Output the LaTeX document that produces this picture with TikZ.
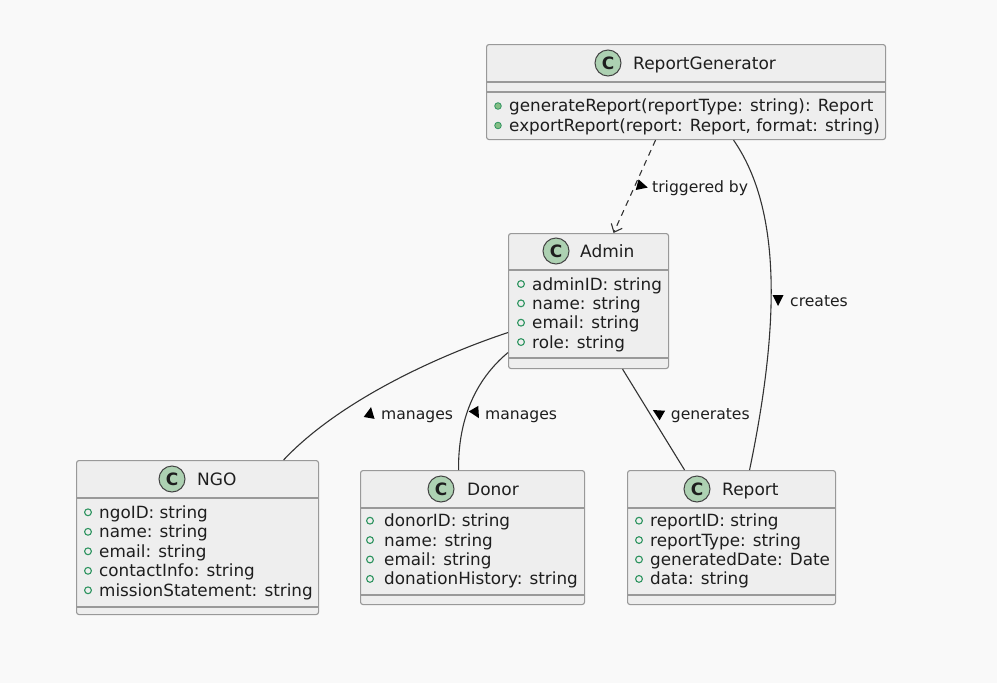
\documentclass[tikz,border=0pt]{standalone}
\usepackage{fontspec}
\setmainfont{DejaVu Sans}
\usetikzlibrary{arrows.meta}
\definecolor{bgcol}{HTML}{F9F9F9}
\definecolor{boxfill}{HTML}{EEEEEE}
\definecolor{boxline}{HTML}{999999}
\definecolor{iconfill}{HTML}{ADD1B2}
\definecolor{iconline}{HTML}{444444}
\definecolor{textcol}{HTML}{1E1E1E}
\definecolor{markgreen}{HTML}{2E9460}
\definecolor{methodfill}{HTML}{84BE84}
\definecolor{linkcol}{HTML}{333333}

\begin{document}
\begin{tikzpicture}[x=1pt,y=-1pt,
  cls/.style={draw=boxline,fill=boxfill,line width=1.1pt,rounded corners=2.5pt,inner sep=0pt,anchor=north west},
  sep/.style={draw=boxline,line width=1.1pt},
  icon/.style={circle,draw=iconline,fill=iconfill,line width=1pt,minimum size=26pt,inner sep=0pt,text=textcol,font=\fontsize{17}{17}\selectfont\bfseries},
  cname/.style={anchor=base west,inner sep=0pt,text=textcol,font=\fontsize{17}{18}\selectfont},
  attr/.style={anchor=base west,inner sep=0pt,text=textcol,font=\fontsize{16.8}{18}\selectfont},
  field/.style={draw=markgreen,line width=1.1pt},
  method/.style={draw=markgreen,fill=methodfill,line width=0.8pt},
  link/.style={draw=linkcol,line width=1.1pt},
  lbl/.style={anchor=base west,inner sep=0pt,text=textcol,font=\fontsize{15.6}{17}\selectfont},
  dirmark/.style={fill=black}]
\fill[bgcol] (0,0) rectangle (997,683);
\useasboundingbox (0,0) rectangle (997,683);

\node[cls,minimum width=399pt,minimum height=95pt] (rg) at (486,44) {};
\draw[sep] (486,82) -- (885,82);
\draw[sep] (486,92) -- (885,92);
\node[icon] (rg-c) at (608,63) {C};
\node[cname] (rg-name) at (633,69) {ReportGenerator};
\draw[method] (498,106) circle (3.3);
\draw[method] (498,125.5) circle (3.3);
\node[attr] (rg-m1) at (509,111.5) {generateReport(reportType: string): Report};
\node[attr] (rg-m2) at (509,131) {exportReport(report: Report, format: string)};

\node[cls,minimum width=160pt,minimum height=135pt] (admin) at (508,233) {};
\draw[sep] (508,270) -- (668,270);
\draw[sep] (508,358) -- (668,358);
\node[icon] (admin-c) at (556,251) {C};
\node[cname] (admin-name) at (580,257) {Admin};
\foreach \t [count=\i] in {adminID: string, name: string, email: string, role: string} {
  \draw[field] (521,284+19.35*\i-19.35) circle (3.4);
  \node[attr] (admin-a\i) at (532,290+19.35*\i-19.35) {\t};
}

\node[cls,minimum width=242pt,minimum height=154pt] (ngo) at (76,460) {};
\draw[sep] (76,498) -- (318,498);
\draw[sep] (76,607) -- (318,607);
\node[icon] (ngo-c) at (172,479) {C};
\node[cname] (ngo-name) at (197,485) {NGO};
\foreach \t [count=\i] in {ngoID: string, name: string, email: string, contactInfo: string, missionStatement: string} {
  \draw[field] (88,512.3+19.5*\i-19.5) circle (3.4);
  \node[attr] (ngo-a\i) at (99,518.3+19.5*\i-19.5) {\t};
}

\node[cls,minimum width=224pt,minimum height=134pt] (donor) at (360,470) {};
\draw[sep] (360,508) -- (584,508);
\draw[sep] (360,595) -- (584,595);
\node[icon] (donor-c) at (441,489) {C};
\node[cname] (donor-name) at (467,495) {Donor};
\foreach \t [count=\i] in {donorID: string, name: string, email: string, donationHistory: string} {
  \draw[field] (370,520.7+19.4*\i-19.4) circle (3.4);
  \node[attr] (donor-a\i) at (384,526.7+19.4*\i-19.4) {\t};
}

\node[cls,minimum width=208pt,minimum height=134pt] (report) at (627,470) {};
\draw[sep] (627,508) -- (835,508);
\draw[sep] (627,595) -- (835,595);
\node[icon] (report-c) at (697,489) {C};
\node[cname] (report-name) at (722,495) {Report};
\foreach \t [count=\i] in {reportID: string, reportType: string, generatedDate: Date, data: string} {
  \draw[field] (639,520.7+19.4*\i-19.4) circle (3.4);
  \node[attr] (report-a\i) at (650,526.7+19.4*\i-19.4) {\t};
}

\draw[link,dash pattern=on 6pt off 5pt,-{Straight Barb[length=7pt,width=12pt]}] ([xshift=-30.5]rg.south) -- ([xshift=25]admin.north);
\draw[link] ([xshift=47.5]rg.south) .. controls (775,200) and (785,300) .. ([xshift=18]report.north);
\draw[link] ([yshift=-31.5]admin.west) .. controls (440,355) and (340,400) .. ([xshift=86]ngo.north);
\draw[link] ([yshift=-51.5]admin.west) .. controls (475,380) and (458,420) .. ([xshift=-14]donor.north);
\draw[link] ([xshift=34]admin.south) -- ([xshift=-47]report.north);

\node[lbl] (trig) at (652,192.7) {triggered by};
\fill[dirmark,shift={(642,186)},rotate=-15] (6,0) -- (-5,-5.5) -- (-5,5.5) -- cycle;
\node[lbl] (creates) at (790,306.7) {creates};
\fill[dirmark,shift={(778,300)},rotate=-90] (6,0) -- (-5,-5.5) -- (-5,5.5) -- cycle;
\node[lbl] (man1) at (381,419.3) {manages};
\fill[dirmark,shift={(370,413)},rotate=80] (6,0) -- (-5,-5.5) -- (-5,5.5) -- cycle;
\node[lbl] (man2) at (485,419.3) {manages};
\fill[dirmark,shift={(476,413)},rotate=-60] (6,0) -- (-5,-5.5) -- (-5,5.5) -- cycle;
\node[lbl] (gen) at (670.7,419.3) {generates};
\fill[dirmark,shift={(658,413)},rotate=150] (6,0) -- (-5,-5.5) -- (-5,5.5) -- cycle;
\end{tikzpicture}
\end{document}
